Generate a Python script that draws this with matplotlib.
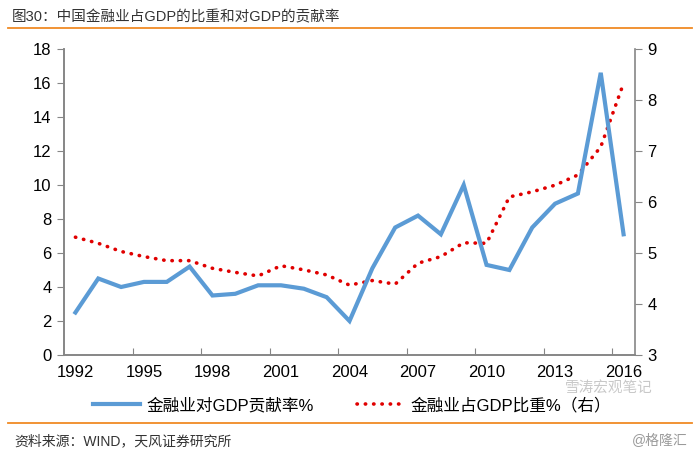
import numpy as np
import matplotlib
matplotlib.use("Agg")
import matplotlib.pyplot as plt
from matplotlib.lines import Line2D

plt.rcParams['font.family'] = ['Liberation Sans', 'Noto Sans CJK SC', 'DejaVu Sans']

# ========== data ==========
years = list(range(1992, 2017))
contrib = [2.5, 4.5, 4.0, 4.3, 4.3, 5.2, 3.5, 3.6, 4.1, 4.1, 3.9, 3.4, 2.0,
           5.1, 7.5, 8.2, 7.1, 10.0, 5.3, 5.0, 7.5, 8.9, 9.5, 16.6, 7.1]
share = [5.31, 5.19, 5.03, 4.93, 4.85, 4.85, 4.70, 4.62, 4.55, 4.75, 4.67, 4.57, 4.37,
         4.46, 4.39, 4.80, 4.93, 5.20, 5.19, 6.10, 6.20, 6.33, 6.53, 7.08, 8.33]
label_years = years[::3]

blue = '#5b9bd5'
red = '#e00000'
axis_grey = '#868686'
text_col = '#333333'
orange = '#f08a24'

fig = plt.figure(figsize=(6.94, 4.53), dpi=100)
ax = fig.add_axes([64 / 694, 1 - 355 / 453, (635 - 64) / 694, (355 - 49) / 453])
ax2 = ax.twinx()

x = np.arange(len(years))
ax.plot(x, contrib, color=blue, lw=3, solid_joinstyle='miter', zorder=3)
ax2.plot(x, share, color=red, lw=2.6, ls=(0, (0.1, 2.2)), dash_capstyle='round')
ax.set_zorder(ax2.get_zorder() + 1)
ax.patch.set_visible(False)

ax.set_xlim(-0.5, len(years) - 0.5)
ax.set_ylim(0, 18)
ax.set_yticks(range(0, 19, 2))
ax2.set_ylim(3, 9)
ax2.set_yticks(range(3, 10))

# category axis: ticks between categories, labels on every 3rd year
ax.set_xticks(np.arange(2.5, len(years) - 1, 3))
ax.set_xticklabels([])
ax.set_xticks(np.arange(0, len(years), 3), minor=True)
ax.set_xticklabels([str(y) for y in label_years], minor=True)
ax.tick_params(axis='x', which='major', direction='in', length=5, color=axis_grey)
ax.tick_params(axis='x', which='minor', length=0, pad=7, labelsize=12)
ax.tick_params(axis='y', direction='out', length=5, color=axis_grey, labelsize=12, pad=4)
ax2.tick_params(axis='y', direction='out', length=5, color=axis_grey, labelsize=12, pad=4)

for a in (ax, ax2):
    a.spines['top'].set_visible(False)
    for s in ('left', 'right', 'bottom'):
        a.spines[s].set_color(axis_grey)
        a.spines[s].set_linewidth(1.2)
ax.spines['right'].set_visible(False)

# title and rules
fig.text(12 / 694, 1 - 17 / 453, '图30：中国金融业占GDP的比重和对GDP的贡献率',
         fontsize=10.5, color=text_col, va='center', ha='left')
fig.add_artist(Line2D([8 / 694, 692 / 694], [1 - 28 / 453] * 2, color=orange, lw=1.3))
fig.add_artist(Line2D([8 / 694, 692 / 694], [1 - 423 / 453] * 2, color=orange, lw=1.3))

handles = [Line2D([], [], color=blue, lw=3),
           Line2D([], [], color=red, lw=2.6, ls=(0, (0.1, 2.2)), dash_capstyle='round')]
fig.legend(handles, ['金融业对GDP贡献率%', '金融业占GDP比重%（右）'],
           loc='center', bbox_to_anchor=(352 / 694, 1 - 405 / 453), ncol=2,
           frameon=False, fontsize=12, handlelength=2.8, columnspacing=2.6,
           handletextpad=0.4)

fig.text(565 / 694, 1 - 388 / 453, '雪涛宏观笔记', fontsize=10.5, color='#c8c8c8',
         va='center', ha='left')

fig.text(14 / 694, 1 - 441 / 453, '资料来源：WIND，天风证券研究所',
         fontsize=10, color=text_col, va='center', ha='left')
fig.text(688 / 694, 1 - 441 / 453, '@格隆汇', fontsize=10, color='#9a9a9a',
         va='center', ha='right')

fig.savefig('out.png', dpi=100)
